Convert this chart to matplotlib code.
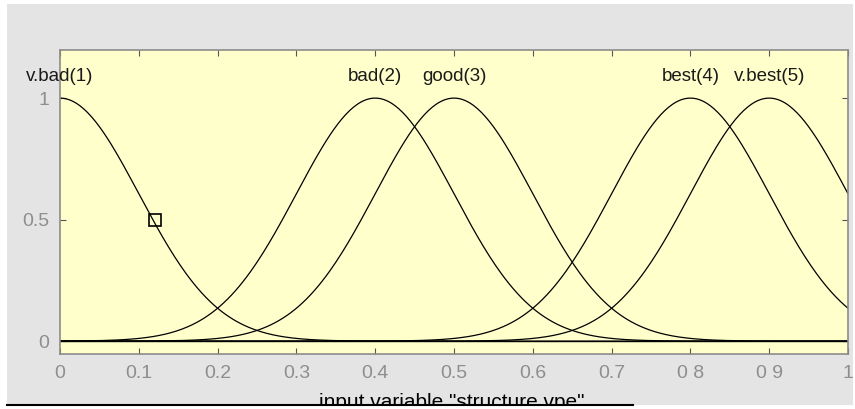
import numpy as np
import matplotlib.pyplot as plt
from matplotlib.patches import Rectangle
from matplotlib.lines import Line2D

plt.rcParams['font.family'] = ['Liberation Sans', 'DejaVu Sans']

# gaussian membership functions
mf_names = ['v.bad(1)', 'bad(2)', 'good(3)', 'best(4)', 'v.best(5)']
mf_centers = [0.0, 0.4, 0.5, 0.8, 0.9]
mf_sigma = 0.1
marker_x = [0.12]
marker_y = [0.5]
xticks = [0, 0.1, 0.2, 0.3, 0.4, 0.5, 0.6, 0.7, 0.8, 0.9, 1]
xticklabels = ['0', '0.1', '0.2', '0.3', '0.4', '0.5', '0.6', '0.7', '0 8', '0 9', '1']
yticks = [0, 0.5, 1]
yticklabels = ['0', '0.5', '1']

W, H = 855, 409
fig = plt.figure(figsize=(W / 100, H / 100), dpi=100)
fig.patch.set_facecolor('white')

# grey window background
fig.patches.append(Rectangle((7 / W, 4 / H), 846 / W, 401 / H, transform=fig.transFigure,
                             facecolor='#e4e4e4', edgecolor='none', zorder=-10))

ax = fig.add_axes([60 / W, (H - 354) / H, 788 / W, 304 / H])
ax.set_facecolor('#ffffcc')

x = np.linspace(0, 1, 401)
for c in mf_centers:
    y = np.exp(-(x - c) ** 2 / (2 * mf_sigma ** 2))
    ax.plot(x, y, color='black', lw=0.9)
ax.axhline(0, color='black', lw=1.0)
ax.plot(marker_x, marker_y, 's', ms=8, mfc='none', mec='black', mew=1.2)

for name, c in zip(mf_names, mf_centers):
    ax.text(c, 1.07, name, ha='center', va='baseline', fontsize=13.5, color='#1a1a1a')

ax.set_xlim(0, 1)
ax.set_ylim(-0.053, 1.198)
ax.set_xticks(xticks)
ax.set_xticklabels(xticklabels)
ax.set_yticks(yticks)
ax.set_yticklabels(yticklabels)
ax.tick_params(direction='in', length=4, width=0.8, color='#555555', labelcolor='#8e8e8e',
               labelsize=14, top=True, right=True, pad=8)
for s in ax.spines.values():
    s.set_color('#8c8c8c')
    s.set_linewidth(1.2)

fig.text(452 / W, (H - 408) / H, 'input variable "structure vpe"', ha='center', va='baseline',
         fontsize=15, color='black', zorder=3)

# bottom edge of the window cuts the label
fig.patches.append(Rectangle((0, 0), 1, 3 / H, transform=fig.transFigure,
                             facecolor='white', edgecolor='none', zorder=5))
fig.lines.append(Line2D([7 / W, 633 / W], [4 / H, 4 / H], transform=fig.transFigure,
                        color='black', lw=1.5, zorder=6))

fig.savefig('out.png', dpi=100)
